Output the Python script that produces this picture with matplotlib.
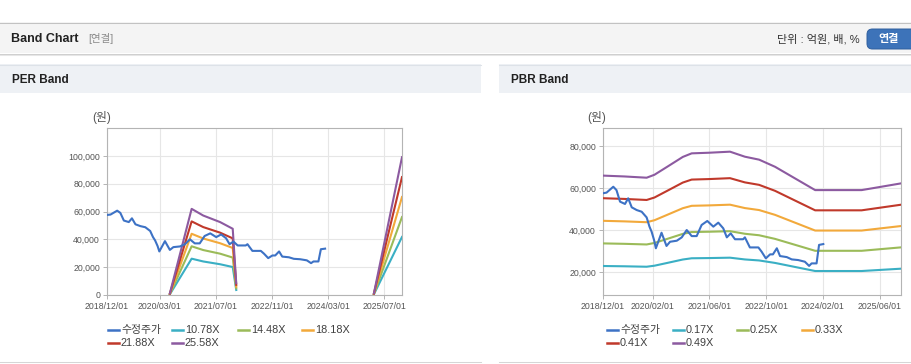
import matplotlib
matplotlib.use('Agg')
import matplotlib.pyplot as plt
from matplotlib.patches import Rectangle, FancyBboxPatch
from matplotlib.lines import Line2D
from matplotlib.ticker import FuncFormatter
import numpy as np

nan = np.nan

# ---------------- data ----------------
# month index: 0 = 2018/12, 84 = 2025/12
price_months = [0, 1, 2.9, 3.8, 4.8, 6.2, 7.1, 8.1, 9.5, 10.9, 12.3, 13.1, 13.7, 14.4, 14.9,
                16.5, 17.9, 18.9, 20.8, 22.2, 23.6, 25.0, 26.4, 27.8, 29.4, 31.1, 32.5, 33.9,
                34.9, 36.0, 37.2, 39.5, 40.0, 41.4, 43.8, 44.7, 45.9, 47.1, 47.9, 49.0, 49.9,
                51.8, 53.2, 55.0, 56.9, 58.1, 58.8, 60.2, 60.9, 62.1]
price = [57500, 57800, 60600, 59000, 53500, 52400, 55100, 50800, 49500, 48700, 46000, 41600,
         39200, 35200, 31300, 38700, 32400, 34400, 34900, 36500, 40000, 37100, 37100, 42400,
         44300, 41600, 43500, 40800, 36500, 38400, 35600, 35600, 36500, 31700, 31700, 29700,
         26500, 28400, 28400, 31300, 27600, 27100, 26000, 25700, 24900, 22900, 24100, 24100,
         32900, 33300]

per_months = [17.9, 24.1, 27.4, 32.2, 35.8, 36.8, nan, 76.0, 84.0]
per_1078 = [500, 26100, 24100, 22100, 20100, 3600, nan, 500, 41700]
per_1448 = [700, 35000, 32300, 29700, 26900, 4800, nan, 700, 56000]
per_1818 = [850, 44000, 40600, 37200, 33800, 6000, nan, 850, 70400]
per_2188 = [1000, 52900, 48800, 44800, 40700, 7300, nan, 1000, 84700]
per_2558 = [1200, 61900, 57100, 52400, 47600, 8500, nan, 1200, 99000]

pbr_months = [0, 6, 12.3, 14.5, 18, 22.5, 25, 30, 35.8, 40, 44, 48.5, 59.8, 72.9, 84]
pbr_017 = [22860, 22720, 22510, 23000, 24280, 25950, 26540, 26640, 26820, 25980, 25500, 24320, 20470, 20470, 21580]
pbr_025 = [33620, 33420, 33110, 33830, 35710, 38160, 39030, 39180, 39440, 38210, 37500, 35770, 30100, 30100, 31730]
pbr_033 = [44380, 44110, 43710, 44650, 47150, 50380, 51520, 51720, 52060, 50440, 49500, 47210, 39740, 39740, 41890]
pbr_041 = [55140, 54800, 54300, 55470, 58570, 62590, 64010, 64260, 64680, 62670, 61500, 58650, 49370, 49370, 52040]
pbr_049 = [65900, 65500, 64900, 66300, 70000, 74800, 76500, 76800, 77300, 74900, 73500, 70100, 59000, 59000, 62200]

per_ticks = [0, 15, 31, 47, 63, 79]
per_tick_labels = ['2018/12/01', '2020/03/01', '2021/07/01', '2022/11/01', '2024/03/01', '2025/07/01']
pbr_ticks = [0, 14, 30, 46, 62, 78]
pbr_tick_labels = ['2018/12/01', '2020/02/01', '2021/06/01', '2022/10/01', '2024/02/01', '2025/06/01']

per_labels = ['수정주가', '10.78X', '14.48X', '18.18X', '21.88X', '25.58X']
pbr_labels = ['수정주가', '0.17X', '0.25X', '0.33X', '0.41X', '0.49X']
colors = ['#3d72c5', '#3aafc4', '#9bbb59', '#f2a93b', '#c0392b', '#8c5aa0']

# ---------------- figure ----------------
W, H = 912, 364
plt.rcParams['font.family'] = ['Liberation Sans', 'Noto Sans CJK KR', 'DejaVu Sans']
fig = plt.figure(figsize=(W / 100, H / 100), dpi=100)
fig.patch.set_facecolor('white')


def fx(x):
    return x / W


def fy(y):
    return 1 - y / H


def rect(x0, y0, x1, y1, color):
    fig.add_artist(Rectangle((fx(x0), fy(y1)), (x1 - x0) / W, (y1 - y0) / H,
                             transform=fig.transFigure, facecolor=color, edgecolor='none', zorder=0))


def hline(x0, x1, y, color, lw=0.75):
    fig.add_artist(Line2D([fx(x0), fx(x1)], [fy(y), fy(y)], transform=fig.transFigure,
                          color=color, lw=lw, zorder=1))


# header bar
rect(0, 22, W, 53, '#f4f4f4')
hline(0, W, 22.5, '#c2c2c2')
hline(0, W, 53.5, '#cfcfcf')
hline(0, W, 54.5, '#e6e6e6')
fig.text(fx(11), fy(39), 'Band Chart', fontsize=9, fontweight='bold', color='#222222', va='center')
fig.text(fx(88), fy(39), '[연결]', fontsize=7.5, color='#8a8a8a', va='center')
fig.text(fx(860), fy(39), '단위 : 억원, 배, %', fontsize=8, color='#333333', va='center', ha='right')
btn = FancyBboxPatch((fx(867), fy(49)), (W + 6 - 867) / W, 20 / H,
                     boxstyle='round,pad=0,rounding_size=0.006', transform=fig.transFigure,
                     facecolor='#3d73b9', edgecolor='#2f5f9e', lw=0.7, mutation_aspect=W / H)
fig.add_artist(btn)
fig.text(fx(889), fy(39), '연결', fontsize=8, fontweight='bold', color='white', va='center', ha='center')

# panel headers
for x0, x1, title in [(0, 481, 'PER Band'), (499, W, 'PBR Band')]:
    rect(x0, 64, x1, 93, '#eef1f5')
    hline(x0, x1, 64.5, '#dde2e8')
    hline(x0, x1, 362, '#d6d6d6')
    fig.text(fx(x0 + 12), fy(80), title, fontsize=8.5, fontweight='bold', color='#222222', va='center')

# axes
ax1 = fig.add_axes([fx(107), fy(295), (402 - 107) / W, (295 - 128) / H])
ax2 = fig.add_axes([fx(603), fy(295), (901 - 603) / W, (295 - 128) / H])

fmt = FuncFormatter(lambda v, p: f'{v:,.0f}')
for ax in (ax1, ax2):
    for s in ax.spines.values():
        s.set_color('#b4b4b4')
        s.set_linewidth(0.8)
    ax.grid(True, color='#e6e6e6', lw=0.8)
    ax.set_axisbelow(True)
    ax.tick_params(axis='both', length=3, width=0.7, color='#b4b4b4', labelsize=6.3,
                   labelcolor='#555555', pad=2)
    ax.yaxis.set_major_formatter(fmt)
    ax.set_xlim(0, 84)

# PER
per_bands = [per_1078, per_1448, per_1818, per_2188, per_2558]
for vals, c in zip(per_bands, colors[1:]):
    ax1.plot(per_months, vals, color=c, lw=1.5, solid_joinstyle='round', zorder=3)
ax1.plot(price_months, price, color=colors[0], lw=1.5, solid_joinstyle='round', zorder=4)
ax1.set_ylim(0, 120000)
ax1.set_yticks([0, 20000, 40000, 60000, 80000, 100000])
ax1.set_xticks(per_ticks)
ax1.set_xticklabels(per_tick_labels)

# PBR
pbr_bands = [pbr_017, pbr_025, pbr_033, pbr_041, pbr_049]
for vals, c in zip(pbr_bands, colors[1:]):
    ax2.plot(pbr_months, vals, color=c, lw=1.5, solid_joinstyle='round', zorder=3)
ax2.plot(price_months, price, color=colors[0], lw=1.5, solid_joinstyle='round', zorder=4)
ax2.set_ylim(9050, 88570)
ax2.set_yticks([20000, 40000, 60000, 80000])
ax2.set_xticks(pbr_ticks)
ax2.set_xticklabels(pbr_tick_labels)

# unit labels
fig.text(fx(102), fy(118), '(원)', fontsize=8.5, color='#555555', va='center', ha='center')
fig.text(fx(597), fy(118), '(원)', fontsize=8.5, color='#555555', va='center', ha='center')

# legends
def legend(x_cols, labels):
    rows = [330, 343]
    pos = [(x_cols[0], rows[0]), (x_cols[1], rows[0]), (x_cols[2], rows[0]), (x_cols[3], rows[0]),
           (x_cols[0], rows[1]), (x_cols[1], rows[1])]
    for (x, y), lab, c in zip(pos, labels, colors):
        fig.add_artist(Line2D([fx(x), fx(x + 11)], [fy(y), fy(y)], transform=fig.transFigure,
                              color=c, lw=1.8))
        fig.text(fx(x + 13), fy(y), lab, fontsize=7.8, color='#404040', va='center')


legend([108, 172, 238, 302], per_labels)
legend([607, 673, 737, 802], pbr_labels)

fig.savefig('out.png', dpi=100, facecolor='white')
